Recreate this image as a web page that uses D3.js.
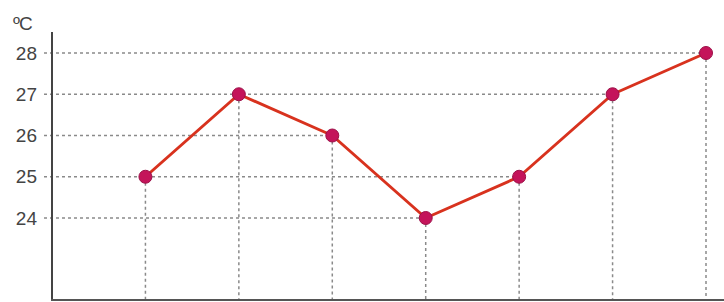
<!DOCTYPE html>
<html>
<head>
<meta charset="utf-8">
<script src="https://cdnjs.cloudflare.com/ajax/libs/d3/7.8.5/d3.min.js"></script>
<style>
  body { margin: 0; background: #fff; }
  svg { display: block; }
</style>
</head>
<body>
<div id="viz"></div>
<script>
var width = 724;
var height = 302;

// data
var positions = [1, 2, 3, 4, 5, 6, 7];
var temps = [25, 27, 26, 24, 25, 27, 28];
var yTicks = [24, 25, 26, 27, 28];
var unitLabel = 'ºC';

var svg = d3.select('#viz')
  .append('svg')
  .attr('width', width)
  .attr('height', height)
  .style('background', '#fff');

var xScale = d3.scaleLinear()
  .domain([0, 7])
  .range([52, 706]);

var yScale = d3.scaleLinear()
  .domain([24, 28])
  .range([218, 53]);

var axisBottomY = 300;

// horizontal dashed lines run from the axis to the last point with that value
var grid = svg.append('g').attr('class', 'grid');
yTicks.forEach(function(t) {
  var lastIdx = temps.lastIndexOf(t);
  var xEnd = lastIdx >= 0 ? xScale(positions[lastIdx]) : xScale(7);
  grid.append('line')
    .attr('x1', 44)
    .attr('x2', xEnd)
    .attr('y1', yScale(t))
    .attr('y2', yScale(t))
    .attr('stroke', '#8a8a8a')
    .attr('stroke-width', 1.5)
    .attr('stroke-dasharray', '3,3');
});

// vertical dashed lines from each point down to the x axis
grid.selectAll('.vline')
  .data(temps)
  .enter().append('line')
  .attr('class', 'vline')
  .attr('x1', function(d, i) { return xScale(positions[i]); })
  .attr('x2', function(d, i) { return xScale(positions[i]); })
  .attr('y1', function(d) { return yScale(d); })
  .attr('y2', axisBottomY)
  .attr('stroke', '#8a8a8a')
  .attr('stroke-width', 1.5)
  .attr('stroke-dasharray', '3,3');

// axes
var yAxis = d3.axisLeft(yScale)
  .tickValues(yTicks)
  .tickFormat(d3.format('d'))
  .tickSize(0)
  .tickPadding(15);
var yG = svg.append('g')
  .attr('transform', 'translate(52,0)')
  .call(yAxis);
yG.select('.domain').remove();
yG.selectAll('text')
  .attr('fill', '#444')
  .style('font-family', 'Liberation Sans, Arial, sans-serif')
  .style('font-size', '19px');

svg.append('line')
  .attr('x1', 52).attr('x2', 52)
  .attr('y1', 32).attr('y2', axisBottomY)
  .attr('stroke', '#444')
  .attr('stroke-width', 2);

svg.append('line')
  .attr('x1', 51).attr('x2', width)
  .attr('y1', axisBottomY).attr('y2', axisBottomY)
  .attr('stroke', '#555')
  .attr('stroke-width', 2);

svg.append('text')
  .attr('x', 13)
  .attr('y', 30)
  .attr('fill', '#444')
  .style('font-family', 'Liberation Sans, Arial, sans-serif')
  .style('font-size', '19px')
  .style('letter-spacing', '-1px')
  .text(unitLabel);

// the data line
var line = d3.line()
  .x(function(d, i) { return xScale(positions[i]); })
  .y(function(d) { return yScale(d); });

svg.append('path')
  .datum(temps)
  .attr('d', line)
  .attr('fill', 'none')
  .attr('stroke', '#d8321e')
  .attr('stroke-width', 3)
  .attr('stroke-linejoin', 'round');

svg.selectAll('.dot')
  .data(temps)
  .enter().append('circle')
  .attr('class', 'dot')
  .attr('cx', function(d, i) { return xScale(positions[i]); })
  .attr('cy', function(d) { return yScale(d); })
  .attr('r', 6.5)
  .attr('fill', '#c4145a')
  .attr('stroke', '#9c1048')
  .attr('stroke-width', 1);
</script>
</body>
</html>
